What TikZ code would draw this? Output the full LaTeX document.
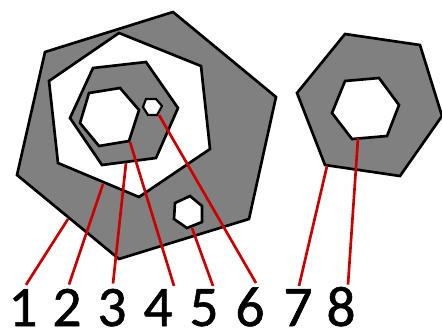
\documentclass[tikz,border=0pt]{standalone}
\usepackage{fontspec}
\setmainfont{Carlito}[FakeBold=1]
\usepackage{tikz}

\begin{document}
\begin{tikzpicture}[x=0.75pt, y=-0.75pt, line join=miter,
    solid/.style={draw=black, line width=2pt, fill=black!50},
    hole/.style={draw=black, line width=2pt, fill=white},
    leader/.style={draw=red!80!black, line width=2pt},
    num/.style={anchor=base, inner sep=0pt, font=\fontsize{43}{43}\selectfont}]
  \useasboundingbox (0,0) rectangle (442,329);
  % Left part
  \draw[solid] (173,12) -- (276,97) -- (249,219) -- (119,259) -- (17,175) -- (45,52) -- cycle;
  \draw[hole] (119,33) -- (201,66) -- (210,149) -- (139,197) -- (58,163) -- (49,81) -- cycle;
  \draw[solid] (93,68) -- (146,62) -- (178,108) -- (156,158) -- (102,165) -- (70,118) -- cycle;
  \draw[hole] (89,93) -- (120,88) -- (139,110) -- (129,141) -- (99,146) -- (80,123) -- cycle;
  \draw[hole, line width=1.6pt] (146,99) -- (156,99) -- (162,106) -- (157,115) -- (148,115) -- (143,107) -- cycle;
  \draw[hole] (190,196) -- (202,206) -- (202,222) -- (187,228) -- (174,219) -- (175,203) -- cycle;
  % Right part
  \draw[solid] (345,34) -- (420,45) -- (442,116) -- (400,176) -- (325,165) -- (297,93) -- cycle;
  \draw[hole] (345,81) -- (379,78) -- (399,105) -- (387,136) -- (352,139) -- (332,113) -- cycle;
  % Labels
  \node[num] (n1) at (23,326) {1};
  \node[num] (n2) at (67,326) {2};
  \node[num] (n3) at (112,326) {3};
  \node[num] (n4) at (158,326) {4};
  \node[num] (n5) at (204,326) {5};
  \node[num] (n6) at (250,326) {6};
  \node[num] (n7) at (298,326) {7};
  \node[num] (n8) at (341,326) {8};
  % Leader ends
  \coordinate (p1) at (68,219);
  \coordinate (p2) at (103,184);
  \coordinate (p3) at (126,163);
  \coordinate (p4) at (130,142);
  \coordinate (p5) at (192,228);
  \coordinate (p6) at (159,115);
  \coordinate (p7) at (327,166);
  \coordinate (p8) at (358,138);
  \draw[leader] (n1.north) ++(3,-4) -- (p1);
  \draw[leader] (n2.north) ++(2,-4) -- (p2);
  \draw[leader] (n3.north) ++(1,-5) -- (p3);
  \draw[leader] (n4.north) ++(16,-3) -- (p4);
  \draw[leader] (n5.north) ++(9,-3) -- (p5);
  \draw[leader] (n6.north) ++(6,-4) -- (p6);
  \draw[leader] (n7.north) ++(1,-3) -- (p7);
  \draw[leader] (n8.north) ++(7,-2) -- (p8);
\end{tikzpicture}
\end{document}
